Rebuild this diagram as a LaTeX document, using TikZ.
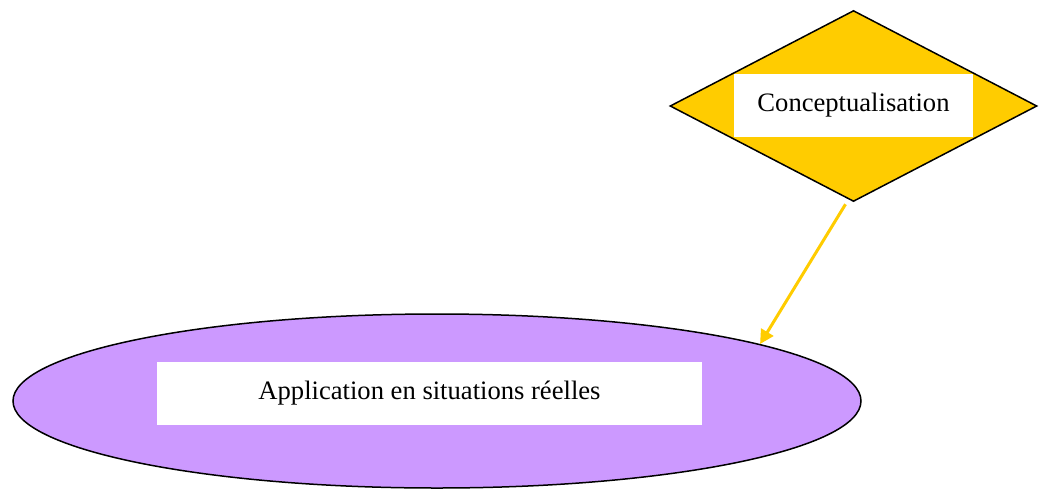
\documentclass[tikz,border=0pt]{standalone}
\usepackage{fontspec}
\setmainfont{Liberation Serif}
\usetikzlibrary{shapes.geometric,arrows.meta,calc}
\definecolor{ngold}{HTML}{FFCC00}
\definecolor{npurple}{HTML}{CC99FF}
\tikzset{
  shapeline/.style={draw=black, line width=0.75pt, inner sep=0pt},
  labelbox/.style={fill=white, inner sep=0pt, font=\fontsize{13.3}{16}\selectfont},
  flow/.style={draw=ngold, line width=1.5pt, -{Triangle[length=7pt,width=7pt]}},
}
\begin{document}
\begin{tikzpicture}[x=0.5pt,y=-0.5pt]
\useasboundingbox (0,0) rectangle (1046,489);
\node[shapeline, diamond, fill=ngold, minimum width=183.5pt, minimum height=95.5pt] (dia) at (853.5,106) {};
\node[labelbox, minimum width=119.5pt, minimum height=31.5pt] (diatxt) at (853.5,105.5) {Conceptualisation};
\node[shapeline, ellipse, fill=npurple, minimum width=424pt, minimum height=87pt] (ell) at (437,401) {};
\node[labelbox, minimum width=272.5pt, minimum height=31.5pt] (elltxt) at (429.5,393.5) {Application en situations réelles};
\coordinate (start) at ($(dia.south)+(-8,2)$);
\draw[flow] (start) -- (ell.10.1);
\end{tikzpicture}
\end{document}
